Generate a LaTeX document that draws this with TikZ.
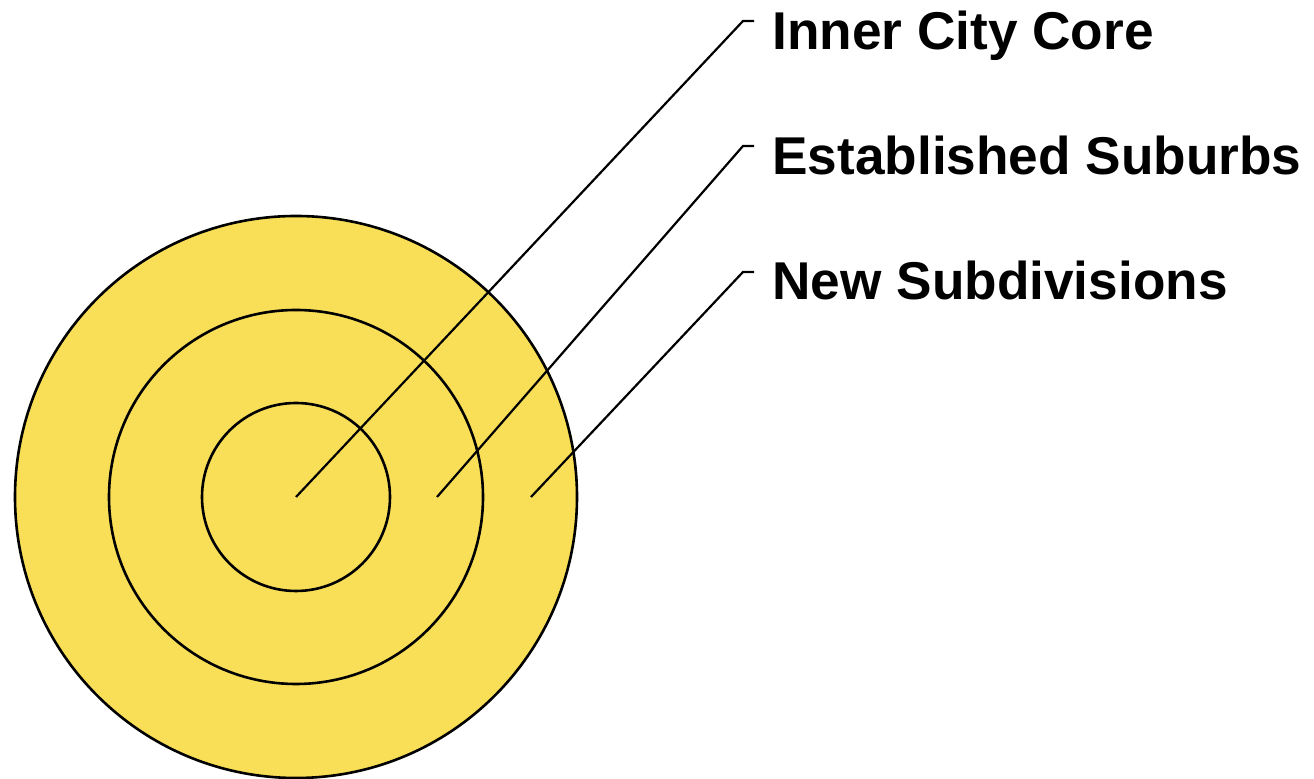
\documentclass[tikz,border=0pt]{standalone}
\usepackage{fontspec}
\setmainfont{Liberation Sans}
\usetikzlibrary{positioning}
\definecolor{zoneyellow}{HTML}{F9DF57}

\begin{document}
\begin{tikzpicture}[x=0.5pt, y=-0.5pt, every node/.style={font=\fontsize{26.6}{30}\selectfont\bfseries, inner sep=0pt, anchor=base west},
	ring/.style={draw=black, line width=1.3pt},
	leader/.style={draw=black, line width=1.1pt}]
	\useasboundingbox (0,0) rectangle (1314,779);
	% rings
	\coordinate (center) at (296,497);
	\fill[zoneyellow] (center) circle (281);
	\draw[ring] (center) circle (281);
	\draw[ring] (center) circle (187);
	\draw[ring] (center) circle (94);
	% labels
	\node (core) at (772,50) {Inner City Core};
	\node (suburbs) at (772,175) {Established Suburbs};
	\node (subdiv) at (772,300) {New Subdivisions};
	% leader lines
	\coordinate (coreKink) at (743,21);
	\coordinate (suburbsKink) at (743,146);
	\coordinate (subdivKink) at (743,272);
	\coordinate (coreEnd) at (754,21);
	\coordinate (suburbsEnd) at (754,146);
	\coordinate (subdivEnd) at (754,272);
	\coordinate (subPt) at (437,497);
	\coordinate (newPt) at (531,497);
	\draw[leader] (center) -- (coreKink) -- (coreEnd);
	\draw[leader] (subPt) -- (suburbsKink) -- (suburbsEnd);
	\draw[leader] (newPt) -- (subdivKink) -- (subdivEnd);
\end{tikzpicture}
\end{document}
